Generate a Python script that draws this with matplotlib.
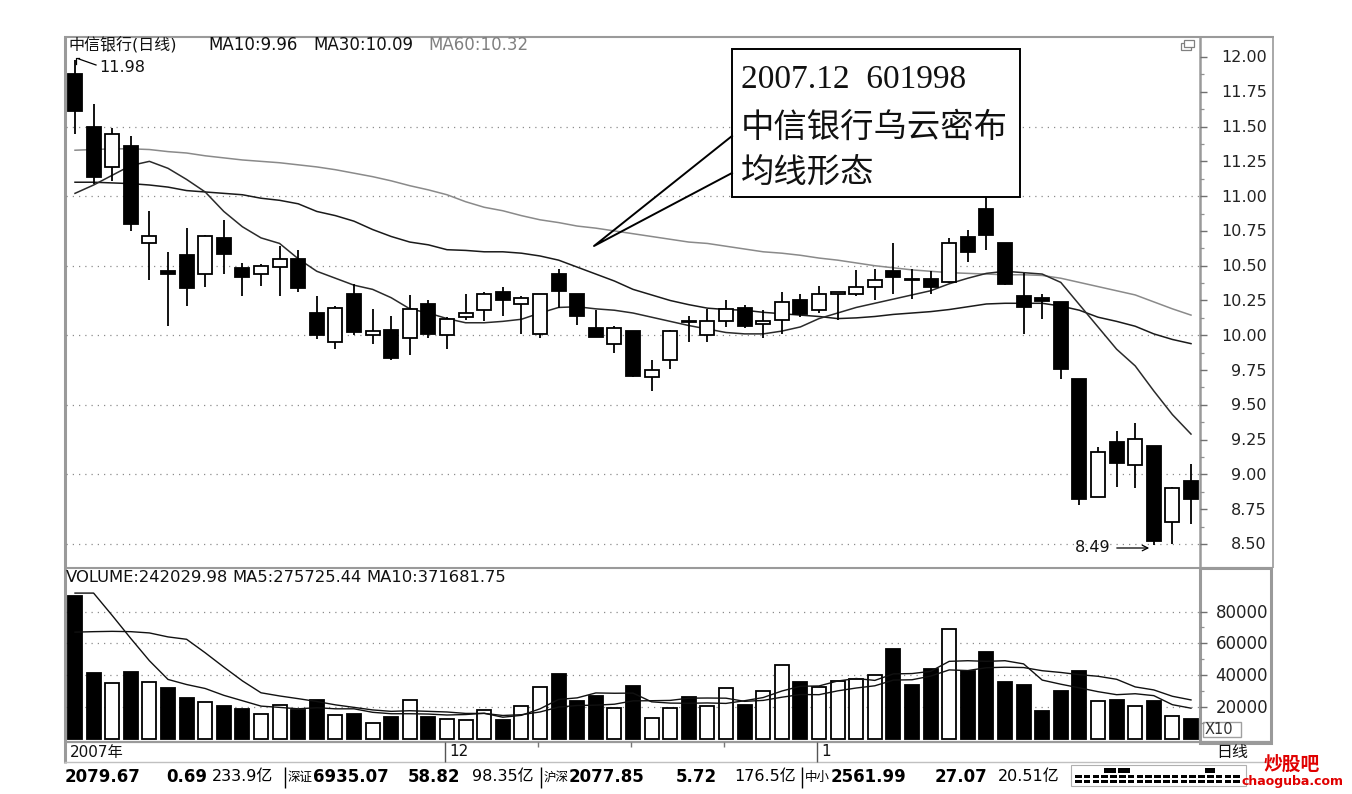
import matplotlib
matplotlib.use('Agg')
import matplotlib.pyplot as plt
from matplotlib.patches import Rectangle

W, H = 1352, 794
plt.rcParams['font.family'] = ['DejaVu Sans', 'Noto Sans CJK SC']

# ---------------- data ----------------
opens = [11.88, 11.50, 11.21, 11.36, 10.66, 10.46, 10.58, 10.44, 10.70, 10.48,
         10.44, 10.49, 10.55, 10.16, 9.95, 10.30, 10.00, 10.04, 9.98, 10.225,
         10.00, 10.13, 10.18, 10.31, 10.225, 10.01, 10.44, 10.295, 10.055, 9.94,
         10.03, 9.70, 9.82, 10.105, 10.00, 10.10, 10.195, 10.08, 10.11, 10.25,
         10.18, 10.30, 10.30, 10.345, 10.46, 10.405, 10.405, 10.38, 10.705, 10.905,
         10.66, 10.285, 10.265, 10.24, 9.685, 8.835, 9.23, 9.065, 9.205, 8.66, 8.955]
highs = [11.98, 11.66, 11.49, 11.43, 10.89, 10.60, 10.77, 10.72, 10.83, 10.52,
         10.51, 10.64, 10.61, 10.28, 10.21, 10.37, 10.19, 10.14, 10.29, 10.25,
         10.13, 10.30, 10.31, 10.345, 10.28, 10.30, 10.475, 10.30, 10.18, 10.07,
         10.03, 9.82, 10.04, 10.135, 10.19, 10.25, 10.22, 10.18, 10.31, 10.30,
         10.355, 10.30, 10.47, 10.475, 10.66, 10.475, 10.465, 10.70, 10.755, 11.00,
         10.66, 10.445, 10.30, 10.24, 9.685, 9.195, 9.31, 9.37, 9.205, 8.91, 9.075]
lows = [11.45, 11.09, 11.11, 10.75, 10.40, 10.07, 10.21, 10.35, 10.44, 10.28,
        10.355, 10.28, 10.31, 9.97, 9.90, 10.00, 9.94, 9.82, 9.86, 9.98,
        9.90, 10.11, 10.105, 10.14, 10.01, 9.98, 10.195, 10.075, 9.985, 9.87,
        9.70, 9.60, 9.76, 9.95, 9.95, 10.06, 10.055, 9.98, 10.01, 10.13,
        10.16, 10.11, 10.28, 10.25, 10.30, 10.26, 10.30, 10.375, 10.525, 10.61,
        10.36, 10.01, 10.12, 9.685, 8.78, 8.835, 8.91, 8.90, 8.49, 8.50, 8.645]
closes = [11.61, 11.14, 11.45, 10.80, 10.71, 10.44, 10.34, 10.71, 10.585, 10.42,
          10.50, 10.55, 10.34, 10.00, 10.195, 10.02, 10.03, 9.84, 10.19, 10.01,
          10.115, 10.16, 10.295, 10.25, 10.27, 10.30, 10.32, 10.135, 9.99, 10.055,
          9.71, 9.75, 10.03, 10.095, 10.105, 10.19, 10.07, 10.105, 10.24, 10.15,
          10.30, 10.30, 10.345, 10.40, 10.42, 10.395, 10.345, 10.66, 10.60, 10.72,
          10.37, 10.20, 10.245, 9.76, 8.825, 9.16, 9.08, 9.255, 8.525, 8.905, 8.825]

ma10 = [11.02, 11.08, 11.15, 11.22, 11.25, 11.20, 11.12, 11.03, 10.89, 10.78,
        10.70, 10.66, 10.55, 10.46, 10.41, 10.36, 10.33, 10.27, 10.19, 10.16,
        10.12, 10.09, 10.09, 10.10, 10.115, 10.16, 10.20, 10.205, 10.19, 10.18,
        10.16, 10.13, 10.10, 10.07, 10.045, 10.02, 10.01, 10.01, 10.03, 10.06,
        10.12, 10.16, 10.20, 10.23, 10.26, 10.29, 10.32, 10.37, 10.41, 10.445,
        10.46, 10.45, 10.44, 10.38, 10.22, 10.06, 9.90, 9.78, 9.60, 9.43, 9.29]
ma30 = [11.10, 11.10, 11.095, 11.09, 11.08, 11.065, 11.04, 11.03, 11.02, 11.01,
        10.985, 10.97, 10.945, 10.89, 10.86, 10.82, 10.76, 10.71, 10.67, 10.65,
        10.615, 10.61, 10.60, 10.60, 10.59, 10.57, 10.54, 10.49, 10.44, 10.39,
        10.33, 10.29, 10.25, 10.22, 10.195, 10.185, 10.18, 10.165, 10.155, 10.145,
        10.135, 10.12, 10.125, 10.135, 10.15, 10.16, 10.17, 10.185, 10.205, 10.225,
        10.23, 10.23, 10.23, 10.21, 10.18, 10.13, 10.10, 10.065, 10.01, 9.97, 9.94]
ma60 = [11.33, 11.335, 11.34, 11.34, 11.335, 11.32, 11.31, 11.29, 11.275, 11.26,
        11.25, 11.24, 11.225, 11.21, 11.19, 11.165, 11.14, 11.11, 11.075, 11.045,
        11.01, 10.96, 10.92, 10.895, 10.86, 10.83, 10.81, 10.785, 10.77, 10.75,
        10.73, 10.71, 10.69, 10.67, 10.66, 10.64, 10.62, 10.60, 10.59, 10.575,
        10.555, 10.54, 10.52, 10.50, 10.485, 10.47, 10.46, 10.45, 10.445, 10.44,
        10.435, 10.435, 10.43, 10.41, 10.38, 10.35, 10.32, 10.29, 10.24, 10.19, 10.145]

volumes = [90000, 41000, 35000, 41800, 35700, 32000, 25300, 22700, 20500, 18400,
           15300, 21000, 18200, 24300, 14600, 15300, 10000, 13800, 24200, 13800,
           12100, 11400, 18100, 11400, 20200, 32400, 40800, 23400, 26500, 19200,
           33300, 12900, 19500, 25900, 20600, 31800, 21000, 29700, 46400, 35800,
           32700, 36500, 37500, 40300, 56400, 33700, 43500, 68900, 42400, 54300,
           35800, 33700, 17600, 29700, 42800, 23500, 24400, 20600, 23800, 14400, 12100]
vol_ma5 = [91600, 91600, 77500, 63000, 49000, 37200, 34000, 31500, 27200, 23800,
           20400, 19600, 18700, 19400, 18700, 18700, 16500, 15600, 15600, 15400,
           14800, 15100, 15900, 13400, 14600, 18700, 24600, 25600, 28700, 28500,
           28600, 23100, 22300, 22200, 22400, 22100, 23800, 25800, 29900, 32900,
           33100, 36200, 37800, 36600, 40700, 40900, 42300, 48600, 49000, 48600,
           49000, 47000, 36800, 34200, 31900, 29500, 27600, 28200, 27000, 21300, 19100]
vol_ma10 = [67000, 67300, 67500, 67300, 66500, 64000, 62500, 54000, 45000, 36300,
            28800, 26800, 25100, 23300, 21200, 19600, 18000, 17100, 17500, 17100,
            16700, 15800, 15800, 14500, 15000, 16700, 19800, 20800, 21000, 21600,
            23700, 23800, 24000, 25400, 25500, 25400, 23400, 24000, 26000, 27700,
            27600, 30000, 31800, 33200, 36800, 37000, 39300, 43200, 42800, 44600,
            44900, 44700, 42700, 41600, 40200, 39200, 37300, 32500, 30600, 26600, 24300]

price_ticks = [12.00, 11.75, 11.50, 11.25, 11.00, 10.75, 10.50, 10.25,
               10.00, 9.75, 9.50, 9.25, 9.00, 8.75, 8.50]
price_tick_labels = ['12.00', '11.75', '11.50', '11.25', '11.00', '10.75', '10.50', '10.25',
                     '10.00', '9.75', '9.50', '9.25', '9.00', '8.75', '8.50']
price_grid = [11.5, 11.0, 10.5, 10.0, 9.5, 9.0, 8.5]
vol_ticks = [80000, 60000, 40000, 20000]
vol_tick_labels = ['80000', '60000', '40000', '20000']

title_parts = ['中信银行(日线)', 'MA10:9.96', 'MA30:10.09', 'MA60:10.32']
vol_title_parts = ['VOLUME:242029.98', 'MA5:275725.44', 'MA10:371681.75']
callout_lines = ['2007.12  601998', '中信银行乌云密布', '均线形态']
date_labels = ['2007年', '12', '1']
status_items = [  # (x, text, kind)
    (65, '2079.67', 'b'), (166, '0.69', 'b'), (212, '233.9亿', 'r'),
    (288, '深证', 'c'), (313, '6935.07', 'b'), (408, '58.82', 'b'), (472, '98.35亿', 'r'),
    (544, '沪深', 'c'), (569, '2077.85', 'b'), (676, '5.72', 'b'), (734, '176.5亿', 'r'),
    (805, '中小', 'c'), (831, '2561.99', 'b'), (935, '27.07', 'b'), (998, '20.51亿', 'r')]

n = len(closes)
xs = list(range(n))

# ---------------- layout helpers ----------------
fig = plt.figure(figsize=(W / 100, H / 100), dpi=100)


def rect(x0, y0, x1, y1):
    return [x0 / W, 1 - y1 / H, (x1 - x0) / W, (y1 - y0) / H]


X0, X1 = 66, 1200
STEP = 18.6
XC0 = 75.0
xlim = ((X0 - XC0) / STEP, (X1 - XC0) / STEP)

ax_bg = fig.add_axes([0, 0, 1, 1], zorder=0)
ax_bg.set_xlim(0, W)
ax_bg.set_ylim(H, 0)
ax_bg.axis('off')

ax = fig.add_axes(rect(X0, 38, X1, 567), zorder=2)
ax.set_facecolor('none')
ax.set_xlim(*xlim)
PY57, PXS = 57.0, 139.14
ax.set_ylim(12 - (567 - PY57) / PXS, 12 + (PY57 - 38) / PXS)
ax.axis('off')

axv = fig.add_axes(rect(X0, 568, X1, 741), zorder=2)
axv.set_facecolor('none')
axv.set_xlim(*xlim)
VPX = 20000 / 31.75
axv.set_ylim(-(741 - 738.5) * VPX, (738.5 - 568) * VPX)
axv.axis('off')

ax_top = fig.add_axes([0, 0, 1, 1], zorder=5)
ax_top.set_xlim(0, W)
ax_top.set_ylim(H, 0)
ax_top.axis('off')
ax_top.set_facecolor('none')

GRAY = '#9a9a9a'
DOT = (0, (1, 4))

# ---------------- price panel ----------------
for g in price_grid:
    ax.axhline(g, color='#8c8c8c', lw=0.9, ls=DOT, zorder=1)

ax.plot(xs, ma60, color='#8a8a8a', lw=1.1, zorder=2)
ax.plot(xs, ma30, color='#1a1a1a', lw=1.1, zorder=2)
ax.plot(xs, ma10, color='#2a2a2a', lw=1.1, zorder=2)

BW = 0.76
for i in range(n):
    o, h, l, c = opens[i], highs[i], lows[i], closes[i]
    ax.vlines(i, l, h, color='black', lw=1.3, zorder=3)
    lo, hi = min(o, c), max(o, c)
    hgt = max(hi - lo, 0.008)
    fc = 'black' if c < o else 'white'
    ax.add_patch(Rectangle((i - BW / 2, lo), BW, hgt, facecolor=fc,
                           edgecolor='black', lw=1.3, zorder=4))

# ---------------- volume panel ----------------
for g in vol_ticks:
    axv.axhline(g, color='#8c8c8c', lw=0.9, ls=DOT, zorder=1)
for i in range(n):
    fc = 'black' if closes[i] < opens[i] else 'white'
    axv.add_patch(Rectangle((i - BW / 2, 0), BW, volumes[i], facecolor=fc,
                            edgecolor='black', lw=1.3, zorder=3))
axv.plot(xs, vol_ma5, color='#111111', lw=1.0, zorder=4)
axv.plot(xs, vol_ma10, color='#111111', lw=1.0, zorder=4)

# ---------------- frames ----------------
def hl(y, xa, xb, lw=1.5, c=GRAY):
    ax_bg.plot([xa, xb], [y, y], color=c, lw=lw, solid_capstyle='butt')


def vl(x, ya, yb, lw=1.5, c=GRAY):
    ax_bg.plot([x, x], [ya, yb], color=c, lw=lw, solid_capstyle='butt')

vl(64.5, 36, 763, lw=2.2)
hl(37, 64, 1274)
vl(1273, 37, 568, lw=1.2)
hl(567.5, 64, 1273)
vl(1200, 37, 742, lw=1.8)
hl(742, 64, 1273, lw=1.6)
hl(762, 64, 1273, lw=1.0, c='#c0c0c0')
ax_bg.add_patch(Rectangle((1200, 568), 71, 175, fill=False, ec=GRAY, lw=2.2))

# window icon
ax_bg.add_patch(Rectangle((1181, 43), 10, 7, fill=False, ec='#808080', lw=0.9))
ax_bg.add_patch(Rectangle((1184, 40), 10, 7, facecolor='white', ec='#808080', lw=0.9))

# price axis ticks and labels
for v, lab in zip(price_ticks, price_tick_labels):
    y = PY57 + (12 - v) * PXS
    hl(y, 1200, 1207, lw=1.0, c='#707070')
    ax_bg.text(1267, y + 1, lab, ha='right', va='center', fontsize=11.5, color='#222222')
    ym = y + 0.125 * PXS
    if v > 8.5:
        hl(ym, 1200, 1204, lw=0.9, c='#909090')

for v, lab in zip(vol_ticks, vol_tick_labels):
    y = 738.5 - v / VPX
    hl(y, 1200, 1207, lw=1.0, c='#707070')
    ax_bg.text(1268, y + 1, lab, ha='right', va='center', fontsize=12, color='#222222')
    hl(y + 10000 / VPX, 1200, 1204, lw=0.9, c='#909090')
ax_bg.add_patch(Rectangle((1203, 722), 38, 15, fill=False, ec='#a0a0a0', lw=1.0))
ax_bg.text(1205, 730, 'X10', ha='left', va='center', fontsize=10.5, color='#333333')

# headers
for x, s, col, fs in zip([68, 208, 313, 428], title_parts,
                         ['#111111', '#111111', '#111111', '#808080'],
                         [11.5, 12, 12, 12]):
    ax_bg.text(x, 45, s, ha='left', va='center', fontsize=fs, color=col)
for x, s in zip([66, 232, 366], vol_title_parts):
    ax_bg.text(x, 578, s, ha='left', va='center', fontsize=11.8, color='#111111')

# date strip
ax_bg.text(70, 752, date_labels[0], ha='left', va='center', fontsize=11, color='#111111')
vl(445, 742, 762, lw=1.0, c='#555555')
ax_bg.text(449, 752, date_labels[1], ha='left', va='center', fontsize=11, color='#111111')
vl(817, 742, 762, lw=1.0, c='#555555')
ax_bg.text(821, 752, date_labels[2], ha='left', va='center', fontsize=11, color='#111111')
for x in [538, 631, 724]:
    vl(x, 742, 747, lw=1.0, c='#777777')
ax_bg.text(1216, 752, '日线', ha='left', va='center', fontsize=11.5, color='#111111')

# status bar
for x, s, kind in status_items:
    if kind == 'b':
        ax_bg.text(x, 777, s, ha='left', va='center', fontsize=12,
                   fontweight='bold', color='black')
    elif kind == 'r':
        ax_bg.text(x, 777, s, ha='left', va='center', fontsize=11.5, color='black')
    else:
        ax_bg.text(x, 777, s, ha='left', va='center', fontsize=9,
                   color='black', family=['Noto Sans CJK SC'])
for x in [285, 541, 802]:
    vl(x, 767, 788, lw=1.0, c='black')
ax_bg.add_patch(Rectangle((1071, 765), 175, 21, fill=False, ec='#b0b0b0', lw=0.8))
for k in range(19):
    x = 1075 + k * 8.8
    ax_bg.add_patch(Rectangle((x, 775), 6.5, 3, color='black', lw=0))
    ax_bg.add_patch(Rectangle((x, 780), 6.5, 3, color='black', lw=0))
ax_bg.add_patch(Rectangle((1104, 768), 12, 5, color='black', lw=0))
ax_bg.add_patch(Rectangle((1118, 768), 12, 5, color='black', lw=0))
ax_bg.add_patch(Rectangle((1205, 768), 10, 5, color='black', lw=0))

# watermark
ax_bg.text(1292, 764, '炒股吧', ha='center', va='center', fontsize=13.5,
           fontweight='bold', color='#e00000', family=['Noto Sans CJK SC'])
ax_bg.text(1292, 781, 'chaoguba.com', ha='center', va='center', fontsize=9,
           fontweight='bold', color='#e00000')

# ---------------- annotations (top layer) ----------------
ax_top.plot([76, 76, 79], [64, 58, 58], color='black', lw=0.9)
ax_top.plot([79, 96], [59, 65], color='black', lw=0.9)
ax_top.text(99, 67, '11.98', ha='left', va='center', fontsize=11.5, color='#111111')
ax_top.text(1075, 548, '8.49', ha='left', va='center', fontsize=11.5, color='#111111')
ax_top.annotate('', xy=(1152, 548), xytext=(1114, 548),
                arrowprops=dict(arrowstyle='->', color='black', lw=0.9))

# callout
ax_top.add_patch(Rectangle((732, 49), 288, 148, facecolor='white', edgecolor='black', lw=1.4))
ax_top.plot([732, 594, 732], [136, 246, 173], color='black', lw=1.4)
ax_top.text(741, 80, callout_lines[0], ha='left', va='center', fontsize=24,
            family=['Liberation Serif'], color='#111111')
ax_top.text(741, 127, callout_lines[1], ha='left', va='center', fontsize=24,
            family=['Noto Sans CJK SC'], color='#111111')
ax_top.text(741, 172, callout_lines[2], ha='left', va='center', fontsize=24,
            family=['Noto Sans CJK SC'], color='#111111')

fig.savefig('out.png', dpi=100, facecolor='white')
